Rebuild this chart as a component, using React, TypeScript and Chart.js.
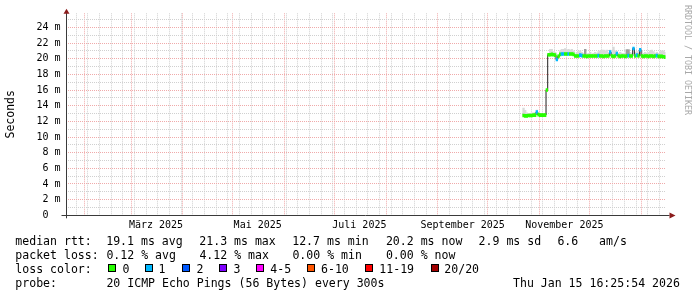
import React, { useEffect, useRef } from 'react';
import { Chart, registerables } from 'chart.js';

Chart.register(...registerables);

// ---------- time frame ----------
const DAY_MS = 86400000;
const GRAPH_END = Date.UTC(2026, 0, 15, 16, 25, 54);
const GRAPH_DAYS = 360;
const GRAPH_START = GRAPH_END - GRAPH_DAYS * DAY_MS;
const FIRST_SAMPLE_DAY = [2025, 9, 22]; // 22 Oct 2025, one sample per day

// ---------- data (ms) ----------
const medianRtt = [
  12.75, 12.7, 12.7, 12.75, 12.75, 12.75, 12.8, 12.8, 13.2, 12.85,
  12.8, 12.8, 12.8, 12.8, 16.0, 20.5, 20.5, 20.55, 20.5, 20.45,
  19.9, 20.3, 20.55, 20.6, 20.6, 20.6, 20.6, 20.6, 20.6, 20.6,
  20.55, 20.35, 20.35, 20.35, 20.45, 20.4, 20.35, 20.35, 20.3, 20.35,
  20.35, 20.35, 20.35, 20.35, 20.35, 20.4, 20.35, 20.35, 20.3, 20.35,
  20.35, 20.35, 20.85, 20.35, 20.3, 20.35, 20.65, 20.35, 20.3, 20.35,
  20.35, 20.3, 20.35, 20.4, 20.35, 20.35, 21.3, 20.35, 20.45, 20.35,
  21.15, 20.35, 20.3, 20.35, 20.35, 20.3, 20.35, 20.35, 20.3, 20.35,
  20.4, 20.3, 20.3, 20.3, 20.25, 20.2,
];
const lossCount = [
  0, 0, 0, 0, 0, 0, 0, 0, 1, 0,
  0, 0, 0, 0, 0, 0, 0, 0, 0, 0,
  1, 0, 0, 1, 1, 0, 0, 1, 0, 0,
  0, 0, 0, 0, 1, 1, 0, 0, 0, 0,
  0, 0, 0, 0, 0, 1, 0, 0, 0, 0,
  0, 0, 1, 0, 0, 0, 1, 0, 0, 0,
  0, 0, 0, 1, 0, 0, 1, 0, 1, 0,
  1, 0, 0, 0, 0, 0, 0, 0, 0, 0,
  1, 0, 0, 0, 0, 0,
];
const smokeTop = [
  13.7, 13.4, 13.1, 13.0, 13.0, 13.05, 13.1, 13.1, 13.45, 13.05,
  13.0, 12.95, 13.0, 12.95, 16.1, 20.7, 21.2, 21.2, 20.9, 20.8,
  20.1, 20.5, 21.0, 21.2, 21.2, 21.3, 21.1, 21.2, 21.1, 21.2,
  21.0, 20.6, 20.8, 20.9, 21.0, 20.8, 20.7, 21.2, 20.6, 20.7,
  20.8, 20.6, 20.7, 20.8, 20.7, 20.9, 21.0, 21.1, 21.1, 21.0,
  21.1, 20.7, 21.1, 20.7, 21.5, 21.0, 20.9, 20.7, 20.8, 20.7,
  20.7, 20.7, 21.2, 21.2, 20.8, 20.7, 21.4, 20.8, 20.9, 20.7,
  21.2, 21.0, 20.7, 20.8, 20.7, 20.8, 21.0, 21.1, 20.9, 20.7,
  20.8, 20.7, 20.9, 21.0, 21.0, 20.8,
];
const smokeDarkTop = [
  null, null, null, null, null, null, null, null, null, null,
  null, null, null, null, null, null, null, null, null, null,
  null, null, null, null, null, null, null, null, null, null,
  null, null, null, null, null, null, null, 21.2, null, null,
  null, null, null, null, null, null, null, null, null, null,
  null, null, null, null, null, null, null, null, null, null,
  null, null, 21.15, 21.15, null, null, null, null, null, null,
  null, null, null, null, null, null, null, null, null, null,
  null, null, null, null, null, null,
];

// ---------- axis labels ----------
const xLabelMonths = [[2025, 2], [2025, 4], [2025, 6], [2025, 8], [2025, 10]];
const xLabelTexts = ['März 2025', 'Mai 2025', 'Juli 2025', 'September 2025', 'November 2025'];
const yTickValues = [0, 1, 2, 3, 4, 5, 6, 7, 8, 9, 10, 11, 12, 13, 14, 15, 16, 17, 18, 19, 20, 21, 22, 23, 24, 25];
const Y_MAX = 25.8;

// ---------- legend ----------
const lossLevels = ['0', '1', '2', '3', '4-5', '6-10', '11-19', '20/20'];
const lossColors = ['#26ff00', '#00b8ff', '#0059ff', '#7e00ff', '#ff00ff', '#ff5500', '#ff0000', '#a10000'];
const rttStats = ['19.1 ms avg', '21.3 ms max', '12.7 ms min', '20.2 ms now', '2.9 ms sd', '6.6   am/s'];
const lossStats = ['0.12 % avg', '4.12 % max', '0.00 % min', '0.00 % now'];
const probeText = '20 ICMP Echo Pings (56 Bytes) every 300s';
const stampText = 'Thu Jan 15 16:25:54 2026';

// ---------- style constants ----------
const MONO = "'DejaVu Sans Mono', monospace";
const BAND_HALF = 0.19;
const MINOR_GRID = '#d0d0d0';
const MAJOR_GRID = '#f0aaaa';

function lossIndex(n: number) {
  if (n <= 0) return 0;
  if (n <= 3) return n;
  if (n <= 5) return 4;
  if (n <= 10) return 5;
  if (n <= 19) return 6;
  return 7;
}

// ticks on the time axis
const monthStarts: number[] = [];
for (let y = 2025; y <= 2026; y++) {
  for (let m = 0; m < 12; m++) {
    const t = Date.UTC(y, m, 1);
    if (t > GRAPH_START && t < GRAPH_END) monthStarts.push(t);
  }
}
const mondays: number[] = [];
{
  const s = new Date(GRAPH_START);
  let t = Date.UTC(s.getUTCFullYear(), s.getUTCMonth(), s.getUTCDate()) + DAY_MS;
  while (new Date(t).getUTCDay() !== 1) t += DAY_MS;
  while (t < GRAPH_END) {
    mondays.push(t);
    t += 7 * DAY_MS;
  }
}
const labelTicks = xLabelMonths.map(([y, m]) => Date.UTC(y, m, 16));
const kindOf = new Map<number, string>();
labelTicks.forEach((v) => kindOf.set(v, 'label'));
mondays.forEach((v) => kindOf.set(v, 'week'));
monthStarts.forEach((v) => kindOf.set(v, 'month'));
const labelOf = new Map<number, string>(labelTicks.map((v, i) => [v, xLabelTexts[i]]));
const xTickValues = Array.from(kindOf.keys()).sort((a, b) => a - b);

const axisPlugin = {
  id: 'rrdAxes',
  afterDraw(chart: any) {
    const { ctx, chartArea: a } = chart;
    const xRow = Math.round(a.bottom) + 0.5;
    const yCol = Math.round(a.left) + 0.5;
    ctx.save();
    ctx.lineWidth = 1;
    ctx.strokeStyle = '#3a3a3a';
    ctx.beginPath();
    ctx.moveTo(a.left - 4, xRow);
    ctx.lineTo(a.right + 4, xRow);
    ctx.stroke();
    ctx.beginPath();
    ctx.moveTo(yCol, a.bottom + 3);
    ctx.lineTo(yCol, a.top - 1);
    ctx.stroke();
    ctx.fillStyle = '#8b1c1c';
    ctx.beginPath();
    ctx.moveTo(a.right + 10, xRow);
    ctx.lineTo(a.right + 4, xRow - 3);
    ctx.lineTo(a.right + 4, xRow + 3);
    ctx.closePath();
    ctx.fill();
    ctx.beginPath();
    ctx.moveTo(yCol, a.top - 4.5);
    ctx.lineTo(yCol - 3, a.top + 0.5);
    ctx.lineTo(yCol + 3, a.top + 0.5);
    ctx.closePath();
    ctx.fill();
    ctx.restore();
  },
};

function ChartCanvas() {
  const ref = useRef<HTMLCanvasElement | null>(null);
  useEffect(() => {
    if (!ref.current) return;
    const sampleX = medianRtt.map((_, i) =>
      Date.UTC(FIRST_SAMPLE_DAY[0], FIRST_SAMPLE_DAY[1], FIRST_SAMPLE_DAY[2] + i, 12)
    );
    const band = sampleX.map((x, i) => ({ x, y: [medianRtt[i] - BAND_HALF, medianRtt[i] + BAND_HALF] }));
    const bandColors = lossCount.map((n) => lossColors[lossIndex(n)]);
    const line = sampleX.map((x, i) => ({ x, y: medianRtt[i] }));
    const smokeLight = sampleX
      .map((x, i) => ({ x, y: [medianRtt[i], smokeTop[i]] }))
      .filter((d) => d.y[1] > d.y[0]);
    const smokeDark = sampleX
      .map((x, i) => ({ x, y: [medianRtt[i], smokeDarkTop[i]] }))
      .filter((d) => d.y[1] != null && (d.y[1] as number) > d.y[0]);

    const tickFont = { family: MONO, size: 10 };
    const barCommon = {
      grouped: false,
      barPercentage: 1,
      categoryPercentage: 1,
      borderWidth: 0,
      borderSkipped: false,
    };

    const chart = new Chart(ref.current, {
      type: 'bar',
      data: {
        datasets: [
          { ...barCommon, data: band as any, backgroundColor: bandColors, order: 0 },
          {
            type: 'line',
            data: line as any,
            stepped: 'middle',
            borderColor: '#202020',
            borderWidth: 1,
            pointRadius: 0,
            order: 1,
          } as any,
          { ...barCommon, data: smokeDark as any, backgroundColor: '#9c9c9c', order: 2 },
          { ...barCommon, data: smokeLight as any, backgroundColor: '#d9d9d9', order: 3 },
        ],
      },
      options: {
        responsive: false,
        animation: false,
        events: [],
        layout: { padding: { left: 0, top: 13.3, right: 31.5, bottom: 0 } },
        plugins: { legend: { display: false }, tooltip: { enabled: false }, title: { display: false } },
        scales: {
          x: {
            type: 'linear',
            min: GRAPH_START,
            max: GRAPH_END,
            offset: false,
            afterBuildTicks: (scale: any) => {
              scale.ticks = xTickValues.map((v) => ({ value: v }));
            },
            afterFit: (scale: any) => {
              scale.height = 81.7;
            },
            ticks: {
              autoSkip: false,
              maxRotation: 0,
              minRotation: 0,
              padding: 4,
              color: '#000',
              font: tickFont,
              callback: (v: any) => labelOf.get(Number(v)) ?? '',
            },
            grid: {
              offset: false,
              drawTicks: false,
              lineWidth: 1,
              borderDash: [1, 1],
              color: (ctx: any) => {
                const k = kindOf.get(ctx.tick?.value);
                if (k === 'month') return MAJOR_GRID;
                if (k === 'week') return MINOR_GRID;
                return 'rgba(0,0,0,0)';
              },
            },
            border: { display: false, dash: [1, 1] },
          } as any,
          y: {
            type: 'linear',
            min: 0,
            max: Y_MAX,
            afterBuildTicks: (scale: any) => {
              scale.ticks = yTickValues.map((v) => ({ value: v }));
            },
            afterFit: (scale: any) => {
              scale.width = 65.5;
            },
            ticks: {
              autoSkip: false,
              padding: 5,
              color: '#000',
              font: tickFont,
              callback: (v: any) => {
                const n = Number(v);
                if (n % 2 !== 0) return '';
                return n === 0 ? '0  ' : `${n} m`;
              },
            },
            grid: {
              drawTicks: false,
              lineWidth: 1,
              borderDash: [1, 1],
              color: (ctx: any) => (ctx.tick?.value % 2 === 0 ? MAJOR_GRID : MINOR_GRID),
            },
            border: { display: false, dash: [1, 1] },
            title: {
              display: true,
              text: 'Seconds',
              color: '#000',
              font: { family: MONO, size: 11.5 },
              padding: { top: 3.7, bottom: 0 },
            },
          } as any,
        },
      },
      plugins: [axisPlugin],
    });
    return () => chart.destroy();
  }, []);
  return (
    <canvas
      ref={ref}
      width={697}
      height={297}
      style={{ position: 'absolute', left: 0, top: 0, width: 697, height: 297 }}
    />
  );
}

const textBase: React.CSSProperties = {
  position: 'absolute',
  fontFamily: MONO,
  fontSize: '11.55px',
  lineHeight: '14px',
  whiteSpace: 'pre',
  color: '#000',
};

function T({ x, y, children }: { x: number; y: number; children: React.ReactNode }) {
  return <span style={{ ...textBase, left: x, top: y }}>{children}</span>;
}

const rttX = [106.2, 199.3, 292.2, 385.9, 478.6, 557.4];
const lossX = [106.4, 199.4, 292.4, 385.9];
const swatchX = [108.3, 145, 181.7, 219.3, 256, 306.7, 365.3, 430.7];
const swatchLabelX = [122.6, 158.6, 196.5, 233.5, 270.3, 321, 379.3, 444.3];

export default function App() {
  const row = [234.3, 248.3, 262.0, 276.3];
  return (
    <div
      style={{
        position: 'absolute',
        left: 0,
        top: 0,
        width: 697,
        height: 297,
        overflow: 'hidden',
        background: '#ffffff',
      }}
    >
      <ChartCanvas />
      <div
        style={{
          position: 'absolute',
          left: 682.5,
          top: 5,
          writingMode: 'vertical-rl',
          fontFamily: MONO,
          fontSize: '8.3px',
          lineHeight: '9px',
          color: '#a8a8a8',
          whiteSpace: 'pre',
        }}
      >
        RRDTOOL / TOBI OETIKER
      </div>
      <T x={15.3} y={row[0]}>median rtt:</T>
      {rttStats.map((s, i) => (
        <T key={'r' + i} x={rttX[i]} y={row[0]}>
          {s}
        </T>
      ))}
      <T x={15.3} y={row[1]}>packet loss:</T>
      {lossStats.map((s, i) => (
        <T key={'l' + i} x={lossX[i]} y={row[1]}>
          {s}
        </T>
      ))}
      <T x={15.3} y={row[2]}>loss color:</T>
      {lossLevels.map((s, i) => (
        <React.Fragment key={'c' + i}>
          <div
            style={{
              position: 'absolute',
              left: swatchX[i],
              top: 264.3,
              width: 8,
              height: 8,
              boxSizing: 'border-box',
              border: '1px solid #000',
              background: lossColors[i],
            }}
          />
          <T x={swatchLabelX[i]} y={row[2]}>
            {s}
          </T>
        </React.Fragment>
      ))}
      <T x={15.3} y={row[3]}>probe:</T>
      <T x={106.4} y={row[3]}>{probeText}</T>
      <T x={513} y={row[3]}>{stampText}</T>
    </div>
  );
}
